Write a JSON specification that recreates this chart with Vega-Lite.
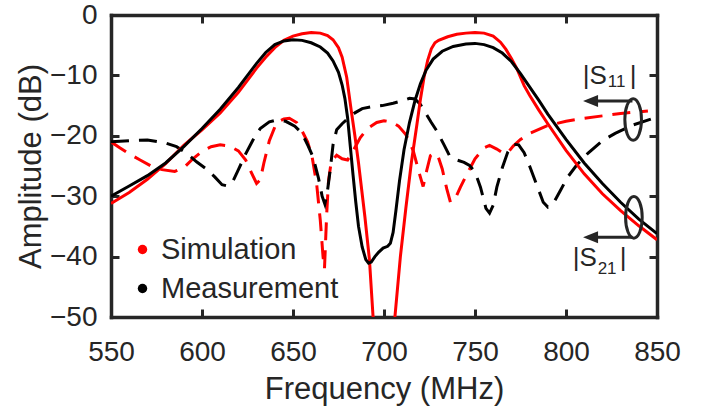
{
  "$schema": "https://vega.github.io/schema/vega-lite/v6.json",
  "width": 546,
  "height": 302,
  "autosize": {"type": "none"},
  "padding": {"left": 111, "top": 15, "right": 55, "bottom": 95},
  "background": "white",
  "config": {
    "font": "Liberation Sans",
    "view": {"stroke": null},
    "axis": {
      "grid": false,
      "domainColor": "#262626",
      "domainWidth": 3.5,
      "domainCap": "square",
      "tickColor": "#262626",
      "tickWidth": 3,
      "tickSize": -8,
      "labelColor": "#262626",
      "labelFontSize": 28,
      "labelFlush": false,
      "labelOverlap": false,
      "titleColor": "#262626",
      "titleFontSize": 31,
      "titleFontWeight": "normal"
    }
  },
  "datasets": {
    "s21": [
      {"f": 550, "db": -31.2, "src": "Simulation"}, {"f": 560, "db": -29.4, "src": "Simulation"}, {"f": 570, "db": -27.2, "src": "Simulation"},
      {"f": 580, "db": -24.6, "src": "Simulation"}, {"f": 590, "db": -21.6, "src": "Simulation"}, {"f": 600, "db": -19.0, "src": "Simulation"},
      {"f": 610, "db": -16.2, "src": "Simulation"}, {"f": 620, "db": -12.8, "src": "Simulation"}, {"f": 630, "db": -8.8, "src": "Simulation"},
      {"f": 635, "db": -7.0, "src": "Simulation"}, {"f": 640, "db": -5.4, "src": "Simulation"}, {"f": 645, "db": -4.2, "src": "Simulation"},
      {"f": 650, "db": -3.5, "src": "Simulation"}, {"f": 655, "db": -3.1, "src": "Simulation"}, {"f": 660, "db": -2.9, "src": "Simulation"},
      {"f": 665, "db": -3.0, "src": "Simulation"}, {"f": 669, "db": -3.4, "src": "Simulation"}, {"f": 672, "db": -4.1, "src": "Simulation"},
      {"f": 675, "db": -5.4, "src": "Simulation"}, {"f": 677, "db": -7.0, "src": "Simulation"}, {"f": 679.5, "db": -10.3, "src": "Simulation"},
      {"f": 682, "db": -15.8, "src": "Simulation"}, {"f": 684, "db": -20.0, "src": "Simulation"}, {"f": 686, "db": -24.5, "src": "Simulation"},
      {"f": 689.5, "db": -33.4, "src": "Simulation"}, {"f": 692, "db": -40.5, "src": "Simulation"}, {"f": 694, "db": -50, "src": "Simulation"},
      {"f": 697, "db": -58, "src": "Simulation"}, {"f": 700, "db": -60, "src": "Simulation"}, {"f": 703, "db": -58, "src": "Simulation"},
      {"f": 706, "db": -50, "src": "Simulation"}, {"f": 709, "db": -40, "src": "Simulation"}, {"f": 712, "db": -32, "src": "Simulation"},
      {"f": 715, "db": -24.5, "src": "Simulation"}, {"f": 718, "db": -18.3, "src": "Simulation"}, {"f": 720, "db": -14.0, "src": "Simulation"},
      {"f": 722, "db": -10.3, "src": "Simulation"}, {"f": 724, "db": -7.5, "src": "Simulation"}, {"f": 726, "db": -5.6, "src": "Simulation"},
      {"f": 728, "db": -4.6, "src": "Simulation"}, {"f": 730, "db": -4.2, "src": "Simulation"}, {"f": 735, "db": -3.6, "src": "Simulation"},
      {"f": 740, "db": -3.2, "src": "Simulation"}, {"f": 745, "db": -3.0, "src": "Simulation"}, {"f": 750, "db": -2.9, "src": "Simulation"},
      {"f": 755, "db": -3.0, "src": "Simulation"}, {"f": 760, "db": -3.5, "src": "Simulation"}, {"f": 764, "db": -4.5, "src": "Simulation"},
      {"f": 767, "db": -5.7, "src": "Simulation"}, {"f": 770, "db": -7.2, "src": "Simulation"}, {"f": 773, "db": -8.9, "src": "Simulation"},
      {"f": 777, "db": -11.7, "src": "Simulation"}, {"f": 780, "db": -13.3, "src": "Simulation"}, {"f": 785, "db": -15.7, "src": "Simulation"},
      {"f": 790, "db": -18.0, "src": "Simulation"}, {"f": 800, "db": -22.4, "src": "Simulation"}, {"f": 810, "db": -26.3, "src": "Simulation"},
      {"f": 820, "db": -29.6, "src": "Simulation"}, {"f": 830, "db": -32.4, "src": "Simulation"}, {"f": 840, "db": -34.9, "src": "Simulation"},
      {"f": 850, "db": -37.2, "src": "Simulation"},
      {"f": 550, "db": -30.0, "src": "Measurement"}, {"f": 560, "db": -28.3, "src": "Measurement"}, {"f": 570, "db": -26.6, "src": "Measurement"},
      {"f": 580, "db": -24.5, "src": "Measurement"}, {"f": 590, "db": -21.8, "src": "Measurement"}, {"f": 600, "db": -18.8, "src": "Measurement"},
      {"f": 610, "db": -15.6, "src": "Measurement"}, {"f": 620, "db": -12.0, "src": "Measurement"}, {"f": 625, "db": -10.0, "src": "Measurement"},
      {"f": 630, "db": -8.0, "src": "Measurement"}, {"f": 635, "db": -6.2, "src": "Measurement"}, {"f": 640, "db": -4.9, "src": "Measurement"},
      {"f": 645, "db": -4.3, "src": "Measurement"}, {"f": 650, "db": -4.1, "src": "Measurement"}, {"f": 655, "db": -4.2, "src": "Measurement"},
      {"f": 660, "db": -4.6, "src": "Measurement"}, {"f": 665, "db": -5.3, "src": "Measurement"}, {"f": 669, "db": -6.3, "src": "Measurement"},
      {"f": 672, "db": -7.6, "src": "Measurement"}, {"f": 675, "db": -9.5, "src": "Measurement"}, {"f": 677, "db": -11.6, "src": "Measurement"},
      {"f": 678.5, "db": -13.8, "src": "Measurement"}, {"f": 680, "db": -17.0, "src": "Measurement"}, {"f": 681.5, "db": -21.8, "src": "Measurement"},
      {"f": 683, "db": -26.5, "src": "Measurement"}, {"f": 684.5, "db": -31.0, "src": "Measurement"}, {"f": 686, "db": -35.0, "src": "Measurement"},
      {"f": 688, "db": -38.4, "src": "Measurement"}, {"f": 690, "db": -40.5, "src": "Measurement"}, {"f": 691.5, "db": -41.1, "src": "Measurement"},
      {"f": 693, "db": -40.9, "src": "Measurement"}, {"f": 695, "db": -40.0, "src": "Measurement"}, {"f": 697, "db": -39.3, "src": "Measurement"},
      {"f": 699.5, "db": -38.6, "src": "Measurement"}, {"f": 702, "db": -38.3, "src": "Measurement"}, {"f": 703.5, "db": -37.8, "src": "Measurement"},
      {"f": 705, "db": -36.0, "src": "Measurement"}, {"f": 706.5, "db": -32.5, "src": "Measurement"}, {"f": 708.5, "db": -27.5, "src": "Measurement"},
      {"f": 711, "db": -22.3, "src": "Measurement"}, {"f": 714, "db": -17.8, "src": "Measurement"}, {"f": 717, "db": -14.2, "src": "Measurement"},
      {"f": 720, "db": -11.4, "src": "Measurement"}, {"f": 723, "db": -9.2, "src": "Measurement"}, {"f": 727, "db": -7.3, "src": "Measurement"},
      {"f": 732, "db": -6.0, "src": "Measurement"}, {"f": 738, "db": -5.2, "src": "Measurement"}, {"f": 745, "db": -4.8, "src": "Measurement"},
      {"f": 750, "db": -4.7, "src": "Measurement"}, {"f": 755, "db": -4.9, "src": "Measurement"}, {"f": 760, "db": -5.4, "src": "Measurement"},
      {"f": 765, "db": -6.3, "src": "Measurement"}, {"f": 770, "db": -7.7, "src": "Measurement"}, {"f": 775, "db": -9.7, "src": "Measurement"},
      {"f": 780, "db": -11.9, "src": "Measurement"}, {"f": 785, "db": -14.1, "src": "Measurement"}, {"f": 790, "db": -16.4, "src": "Measurement"},
      {"f": 800, "db": -20.6, "src": "Measurement"}, {"f": 810, "db": -24.5, "src": "Measurement"}, {"f": 820, "db": -27.9, "src": "Measurement"},
      {"f": 830, "db": -31.0, "src": "Measurement"}, {"f": 840, "db": -33.8, "src": "Measurement"}, {"f": 850, "db": -36.2, "src": "Measurement"}
    ],
    "s11": [
      {"f": 550, "db": -21.0, "src": "Simulation"}, {"f": 555, "db": -22.0, "src": "Simulation"}, {"f": 560, "db": -23.0, "src": "Simulation"},
      {"f": 566, "db": -24.0, "src": "Simulation"}, {"f": 572, "db": -25.0, "src": "Simulation"}, {"f": 578, "db": -25.6, "src": "Simulation"},
      {"f": 585, "db": -25.9, "src": "Simulation"}, {"f": 590, "db": -25.3, "src": "Simulation"}, {"f": 595, "db": -23.8, "src": "Simulation"},
      {"f": 600, "db": -22.6, "src": "Simulation"}, {"f": 605, "db": -21.8, "src": "Simulation"}, {"f": 610, "db": -21.5, "src": "Simulation"},
      {"f": 615, "db": -21.7, "src": "Simulation"}, {"f": 620, "db": -22.5, "src": "Simulation"}, {"f": 624, "db": -24.0, "src": "Simulation"},
      {"f": 627, "db": -26.0, "src": "Simulation"}, {"f": 630, "db": -27.9, "src": "Simulation"}, {"f": 632, "db": -27.3, "src": "Simulation"},
      {"f": 634, "db": -24.5, "src": "Simulation"}, {"f": 637, "db": -20.8, "src": "Simulation"}, {"f": 641, "db": -17.8, "src": "Simulation"},
      {"f": 645, "db": -17.2, "src": "Simulation"}, {"f": 648, "db": -17.1, "src": "Simulation"}, {"f": 652, "db": -17.8, "src": "Simulation"},
      {"f": 655, "db": -19.2, "src": "Simulation"}, {"f": 658, "db": -21.0, "src": "Simulation"}, {"f": 660.5, "db": -23.5, "src": "Simulation"},
      {"f": 663, "db": -28.0, "src": "Simulation"}, {"f": 665, "db": -34.0, "src": "Simulation"}, {"f": 666.5, "db": -40.0, "src": "Simulation"},
      {"f": 667.3, "db": -42.0, "src": "Simulation"}, {"f": 668.5, "db": -33.0, "src": "Simulation"}, {"f": 669.5, "db": -27.5, "src": "Simulation"},
      {"f": 671, "db": -24.3, "src": "Simulation"}, {"f": 674, "db": -23.2, "src": "Simulation"}, {"f": 677, "db": -23.8, "src": "Simulation"},
      {"f": 680, "db": -24.0, "src": "Simulation"}, {"f": 683, "db": -22.5, "src": "Simulation"}, {"f": 687, "db": -20.3, "src": "Simulation"},
      {"f": 691, "db": -18.8, "src": "Simulation"}, {"f": 696, "db": -17.8, "src": "Simulation"}, {"f": 700, "db": -17.5, "src": "Simulation"},
      {"f": 704, "db": -17.7, "src": "Simulation"}, {"f": 708, "db": -18.4, "src": "Simulation"}, {"f": 712, "db": -19.8, "src": "Simulation"},
      {"f": 716, "db": -22.4, "src": "Simulation"}, {"f": 719, "db": -25.8, "src": "Simulation"}, {"f": 721.5, "db": -28.4, "src": "Simulation"},
      {"f": 723.5, "db": -25.7, "src": "Simulation"}, {"f": 725.5, "db": -23.3, "src": "Simulation"}, {"f": 727.5, "db": -22.9, "src": "Simulation"},
      {"f": 729.5, "db": -23.2, "src": "Simulation"}, {"f": 732, "db": -25.5, "src": "Simulation"}, {"f": 734.5, "db": -28.8, "src": "Simulation"},
      {"f": 736.5, "db": -31.0, "src": "Simulation"}, {"f": 739, "db": -30.5, "src": "Simulation"}, {"f": 742, "db": -28.5, "src": "Simulation"},
      {"f": 745, "db": -26.7, "src": "Simulation"}, {"f": 750, "db": -23.8, "src": "Simulation"}, {"f": 755, "db": -22.0, "src": "Simulation"},
      {"f": 758, "db": -21.6, "src": "Simulation"}, {"f": 762, "db": -22.2, "src": "Simulation"}, {"f": 765.5, "db": -22.9, "src": "Simulation"},
      {"f": 768, "db": -22.8, "src": "Simulation"}, {"f": 771, "db": -21.7, "src": "Simulation"}, {"f": 775, "db": -20.6, "src": "Simulation"},
      {"f": 780, "db": -19.6, "src": "Simulation"}, {"f": 790, "db": -18.3, "src": "Simulation"}, {"f": 800, "db": -17.6, "src": "Simulation"},
      {"f": 810, "db": -17.1, "src": "Simulation"}, {"f": 820, "db": -16.7, "src": "Simulation"}, {"f": 830, "db": -16.3, "src": "Simulation"},
      {"f": 845, "db": -15.9, "src": "Simulation"},
      {"f": 550, "db": -21.0, "src": "Measurement"}, {"f": 560, "db": -20.8, "src": "Measurement"}, {"f": 570, "db": -20.7, "src": "Measurement"},
      {"f": 580, "db": -21.2, "src": "Measurement"}, {"f": 586, "db": -21.8, "src": "Measurement"}, {"f": 592, "db": -23.0, "src": "Measurement"},
      {"f": 597, "db": -24.3, "src": "Measurement"}, {"f": 602, "db": -25.4, "src": "Measurement"}, {"f": 607, "db": -26.8, "src": "Measurement"},
      {"f": 611, "db": -28.1, "src": "Measurement"}, {"f": 614, "db": -28.3, "src": "Measurement"}, {"f": 617, "db": -27.5, "src": "Measurement"},
      {"f": 620, "db": -25.6, "src": "Measurement"}, {"f": 624, "db": -23.0, "src": "Measurement"}, {"f": 628, "db": -20.7, "src": "Measurement"},
      {"f": 632, "db": -18.8, "src": "Measurement"}, {"f": 637, "db": -17.7, "src": "Measurement"}, {"f": 641, "db": -17.4, "src": "Measurement"},
      {"f": 646, "db": -17.6, "src": "Measurement"}, {"f": 651, "db": -18.4, "src": "Measurement"}, {"f": 655, "db": -19.6, "src": "Measurement"},
      {"f": 658.5, "db": -21.8, "src": "Measurement"}, {"f": 661, "db": -23.5, "src": "Measurement"}, {"f": 664, "db": -27.0, "src": "Measurement"},
      {"f": 666, "db": -30.0, "src": "Measurement"}, {"f": 667.5, "db": -31.3, "src": "Measurement"}, {"f": 669, "db": -29.0, "src": "Measurement"},
      {"f": 670.5, "db": -25.5, "src": "Measurement"}, {"f": 672, "db": -21.5, "src": "Measurement"}, {"f": 674, "db": -19.0, "src": "Measurement"},
      {"f": 677, "db": -18.0, "src": "Measurement"}, {"f": 680, "db": -17.2, "src": "Measurement"}, {"f": 684, "db": -16.2, "src": "Measurement"},
      {"f": 688, "db": -15.5, "src": "Measurement"}, {"f": 693, "db": -15.2, "src": "Measurement"}, {"f": 699, "db": -15.0, "src": "Measurement"},
      {"f": 705, "db": -14.6, "src": "Measurement"}, {"f": 710, "db": -14.2, "src": "Measurement"}, {"f": 714, "db": -13.8, "src": "Measurement"},
      {"f": 717, "db": -13.9, "src": "Measurement"}, {"f": 720, "db": -14.8, "src": "Measurement"}, {"f": 723, "db": -16.3, "src": "Measurement"},
      {"f": 726, "db": -17.8, "src": "Measurement"}, {"f": 729, "db": -19.2, "src": "Measurement"}, {"f": 733, "db": -21.5, "src": "Measurement"},
      {"f": 736, "db": -23.3, "src": "Measurement"}, {"f": 740, "db": -24.0, "src": "Measurement"}, {"f": 744, "db": -24.4, "src": "Measurement"},
      {"f": 747, "db": -24.9, "src": "Measurement"}, {"f": 750, "db": -26.0, "src": "Measurement"}, {"f": 753, "db": -28.5, "src": "Measurement"},
      {"f": 756, "db": -32.0, "src": "Measurement"}, {"f": 758, "db": -32.8, "src": "Measurement"}, {"f": 760, "db": -31.5, "src": "Measurement"},
      {"f": 762, "db": -28.5, "src": "Measurement"}, {"f": 765, "db": -25.3, "src": "Measurement"}, {"f": 768, "db": -22.7, "src": "Measurement"},
      {"f": 771, "db": -21.4, "src": "Measurement"}, {"f": 774, "db": -21.5, "src": "Measurement"}, {"f": 777, "db": -22.8, "src": "Measurement"},
      {"f": 780, "db": -25.0, "src": "Measurement"}, {"f": 784, "db": -28.2, "src": "Measurement"}, {"f": 787.5, "db": -31.0, "src": "Measurement"},
      {"f": 790, "db": -31.8, "src": "Measurement"}, {"f": 793, "db": -31.2, "src": "Measurement"}, {"f": 797, "db": -29.0, "src": "Measurement"},
      {"f": 801, "db": -26.8, "src": "Measurement"}, {"f": 806, "db": -24.8, "src": "Measurement"}, {"f": 812, "db": -22.9, "src": "Measurement"},
      {"f": 820, "db": -20.8, "src": "Measurement"}, {"f": 827, "db": -19.6, "src": "Measurement"}, {"f": 837, "db": -18.2, "src": "Measurement"},
      {"f": 850, "db": -16.9, "src": "Measurement"}
    ],
    "ellipses": [{"f": 836.9, "db": -17.3}, {"f": 837.3, "db": -33.5}],
    "arrows": [{"f1": 812, "f2": 836.5, "db": -14.25}, {"f1": 812, "f2": 836.5, "db": -36.8}],
    "heads": [{"f": 813.5, "db": -14.25}, {"f": 813.5, "db": -36.8}],
    "mainText": [
      {"f": 809.2, "db": -11.4, "t": "|S"}, {"f": 835, "db": -11.4, "t": "|"},
      {"f": 803.7, "db": -41.6, "t": "|S"}, {"f": 829.5, "db": -41.6, "t": "|"}
    ],
    "subText": [
      {"f": 823.0, "db": -11.9, "t": "11"},
      {"f": 817.4, "db": -42.8, "t": "21"}
    ]
  },
  "layer": [
    {
      "data": {"name": "s11"},
      "mark": {"type": "line", "strokeWidth": 3, "clip": true, "strokeDash": [18, 10]},
      "encoding": {
        "x": {"field": "f", "type": "quantitative",
              "scale": {"domain": [550, 850], "nice": false, "zero": false},
              "axis": {"orient": "bottom", "values": [550, 600, 650, 700, 750, 800, 850], "title": "Frequency (MHz)", "labelPadding": 29, "titlePadding": 8}},
        "y": {"field": "db", "type": "quantitative",
              "scale": {"domain": [-50, 0], "nice": false, "zero": false},
              "axis": {"orient": "left", "values": [-50, -40, -30, -20, -10, 0], "title": "Amplitude (dB)", "labelPadding": 22, "titlePadding": 2}},
        "color": {"field": "src", "type": "nominal",
                  "scale": {"domain": ["Simulation", "Measurement"], "range": ["#ff0000", "#000000"]},
                  "legend": {"orient": "none", "legendX": 17, "legendY": 220, "title": null,
                             "symbolType": "circle", "symbolSize": 90, "symbolStrokeWidth": 0,
                             "labelFontSize": 29, "labelColor": "#262626", "labelOffset": 4, "labelLimit": 400,
                             "rowPadding": 9, "padding": 0,
                             "encode": {"symbols": {"update": {"fill": {"scale": "color", "field": "value"}, "opacity": {"value": 1}}}}}}
      }
    },
    {
      "data": {"name": "s21"},
      "mark": {"type": "line", "strokeWidth": 3, "clip": true},
      "encoding": {
        "x": {"field": "f", "type": "quantitative", "axis": null},
        "y": {"field": "db", "type": "quantitative", "axis": null},
        "color": {"field": "src", "type": "nominal"}
      }
    },
    {
      "data": {"name": "ellipses"},
      "mark": {"type": "point", "shape": "M0,-1 A0.4,1 0 1,0 0,1 A0.4,1 0 1,0 0,-1 Z", "size": 1730, "filled": false, "stroke": "#262626", "strokeWidth": 3, "opacity": 1},
      "encoding": {
        "x": {"field": "f", "type": "quantitative",
              "axis": {"orient": "top", "values": [550, 600, 650, 700, 750, 800, 850], "labels": false, "title": null}},
        "y": {"field": "db", "type": "quantitative",
              "axis": {"orient": "right", "values": [-50, -40, -30, -20, -10, 0], "labels": false, "title": null}}
      }
    },
    {
      "data": {"name": "arrows"},
      "mark": {"type": "rule", "stroke": "#262626", "strokeWidth": 3},
      "encoding": {
        "x": {"field": "f1", "type": "quantitative", "axis": null},
        "x2": {"field": "f2"},
        "y": {"field": "db", "type": "quantitative", "axis": null}
      }
    },
    {
      "data": {"name": "heads"},
      "mark": {"type": "point", "shape": "M-1,0 L1,-0.8 L1,0.8 Z", "size": 225, "filled": true, "fill": "#262626", "opacity": 1, "strokeWidth": 0},
      "encoding": {
        "x": {"field": "f", "type": "quantitative", "axis": null},
        "y": {"field": "db", "type": "quantitative", "axis": null}
      }
    },
    {
      "data": {"name": "mainText"},
      "mark": {"type": "text", "align": "left", "baseline": "alphabetic", "fontSize": 26, "color": "#262626"},
      "encoding": {
        "x": {"field": "f", "type": "quantitative", "axis": null},
        "y": {"field": "db", "type": "quantitative", "axis": null},
        "text": {"field": "t"}
      }
    },
    {
      "data": {"name": "subText"},
      "mark": {"type": "text", "align": "left", "baseline": "alphabetic", "fontSize": 17, "color": "#262626"},
      "encoding": {
        "x": {"field": "f", "type": "quantitative", "axis": null},
        "y": {"field": "db", "type": "quantitative", "axis": null},
        "text": {"field": "t"}
      }
    }
  ],
  "resolve": {"axis": {"x": "independent", "y": "independent"}}
}
